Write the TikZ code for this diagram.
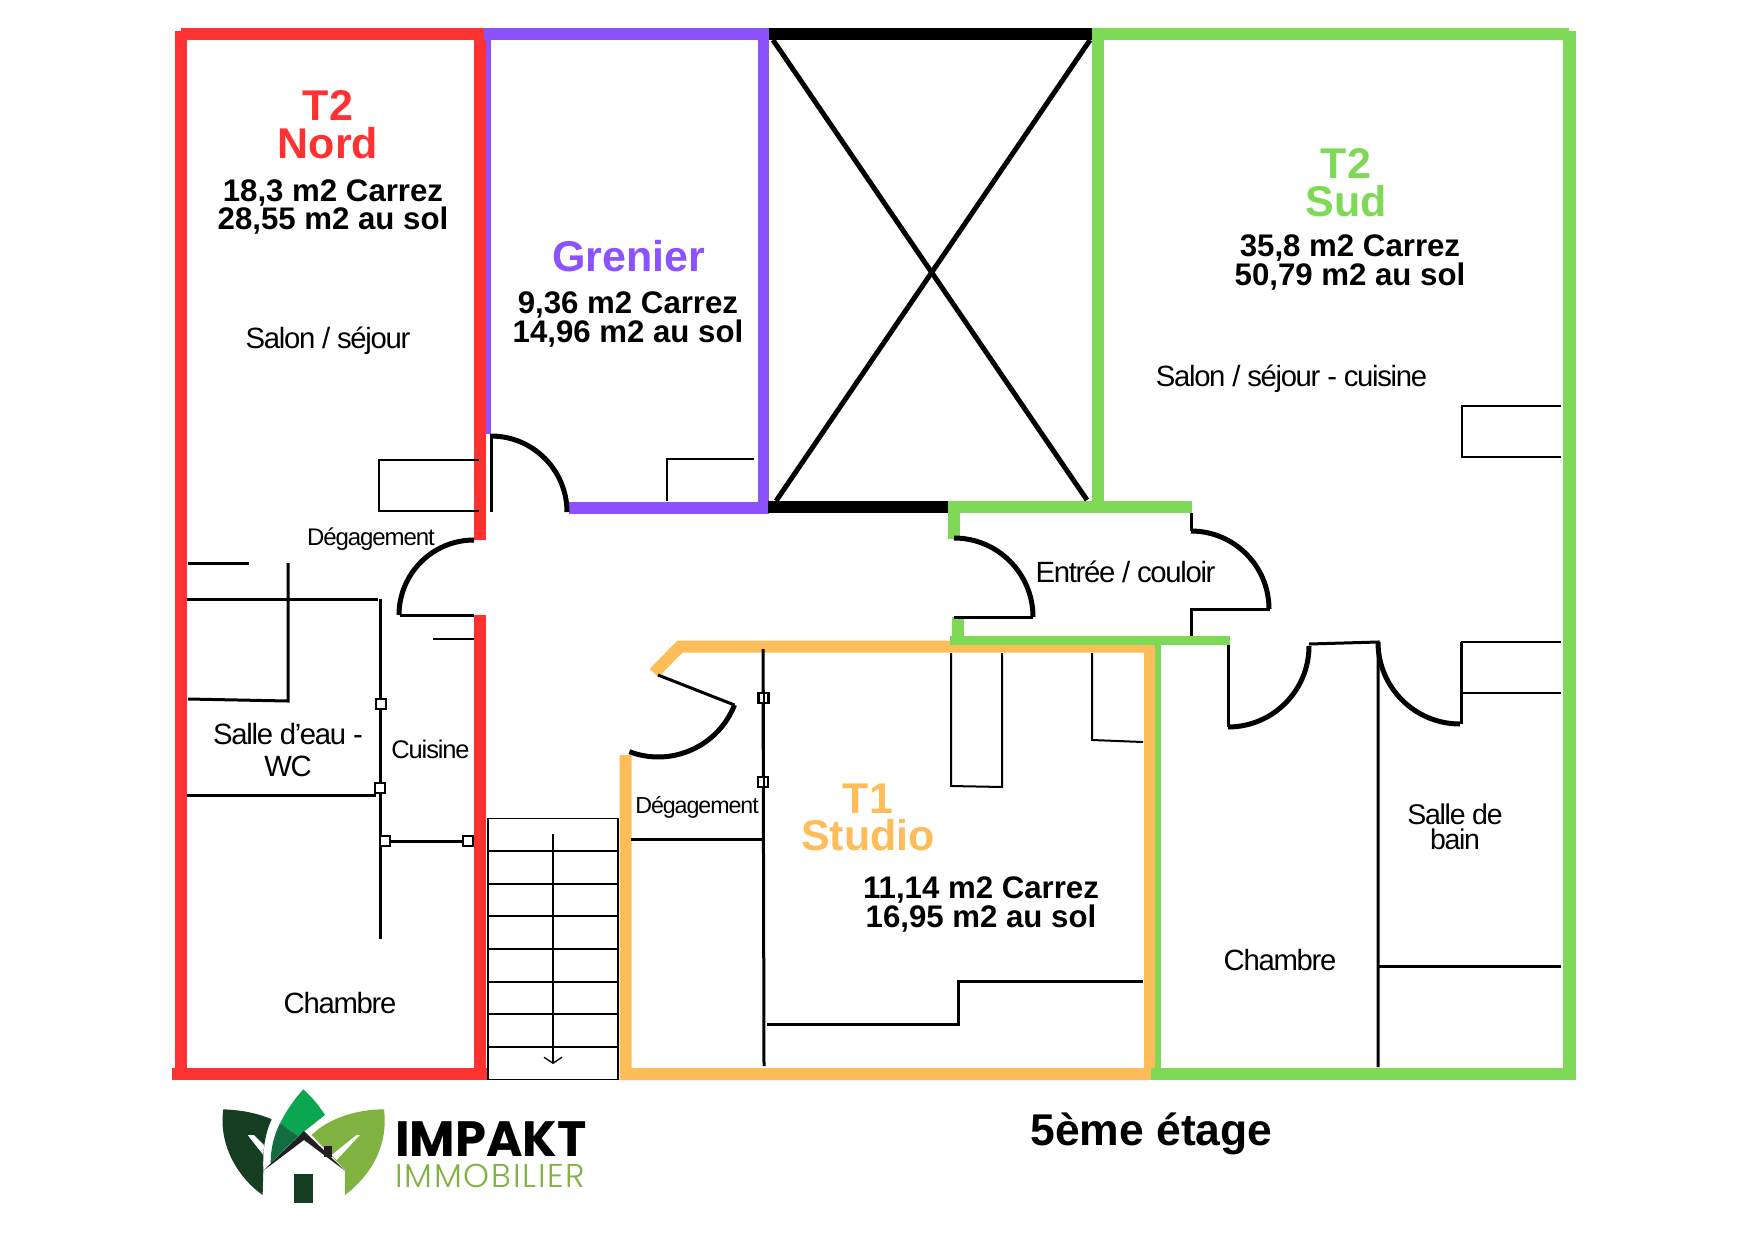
\documentclass[tikz,border=0pt]{standalone}
\usepackage{fontspec}
\setmainfont{Liberation Sans}
\newfontfamily\labelfont[LetterSpace=-4.5]{Liberation Sans}
\newfontfamily\logofont{Poppins}
\newfontfamily\logolight[LetterSpace=5.5]{Poppins Light}
\usetikzlibrary{arrows.meta}
\definecolor{nordred}{HTML}{FF3131}
\definecolor{grenierpurple}{HTML}{8C52FF}
\definecolor{sudgreen}{HTML}{7ED957}
\definecolor{studioorange}{HTML}{FFBD59}
\definecolor{logodark}{HTML}{143D22}
\definecolor{logomid}{HTML}{146C43}
\definecolor{logobright}{HTML}{0BA650}
\definecolor{logoleaf}{HTML}{7FB241}
\definecolor{logoroof}{HTML}{231F20}

\begin{document}
\begin{tikzpicture}[x=1pt,y=-1pt]
\tikzset{wall/.style={line width=12pt,line cap=butt,line join=miter}}
\tikzset{door/.style={line width=5pt}}
\tikzset{frame/.style={line width=3pt}}
\tikzset{fixture/.style={line width=2pt}}
\tikzset{stairline/.style={line width=1.3pt}}
\tikzset{hinge/.style={draw,fill=white,line width=2.5pt,inner sep=0pt,minimum size=10pt}}
\tikzset{title/.style={font=\fontsize{43}{38}\selectfont\bfseries,align=center,anchor=base,inner sep=0pt}}
\tikzset{area/.style={font=\fontsize{31.2}{26.5}\selectfont\bfseries,align=center,anchor=base,inner sep=0pt}}
\tikzset{room/.style={font=\labelfont\fontsize{29.3}{32}\selectfont,align=center,anchor=base,inner sep=0pt}}
\useasboundingbox (0,0) rectangle (1748,1240);
\fill[white] (0,0) rectangle (1748,1240);

% walls
\draw[wall,line width=10pt,grenierpurple] (486,34) -- (486,434);
\draw[wall,nordred] (181,31) -- (181,1074);
\draw[wall,nordred] (181,34) -- (484,34);
\draw[wall,nordred] (480,28) -- (480,540);
\draw[wall,nordred] (480,615) -- (480,1074);
\draw[wall,nordred] (172,1074) -- (488,1074);
\draw[wall,grenierpurple] (484,34) -- (769,34);
\draw[wall,line width=11pt,grenierpurple] (763.5,28) -- (763.5,514);
\draw[wall,grenierpurple] (569,508) -- (769,508);
\draw[wall] (769,34) -- (1092,34);
\draw[wall,line width=12.5pt] (768,507) -- (950,507);
\draw[wall,studioorange] (654,673) -- (680,646.5) -- (1150,646.5) -- (1150,1074) -- (625.5,1074) -- (625.5,755);
\draw[wall,sudgreen] (1097.5,28) -- (1097.5,502);
\draw[wall,sudgreen] (1092,34) -- (1569,34);
\draw[wall,line width=13pt,sudgreen] (1569.5,31) -- (1569.5,1080);
\draw[wall,sudgreen] (1151,1074) -- (1576,1074);
\draw[wall,line width=6pt,sudgreen] (1158,645) -- (1158,1068);
\draw[wall,sudgreen] (950,506.5) -- (1192,506.5);
\draw[wall,sudgreen] (954,501) -- (954,539);
\draw[wall,sudgreen] (958,617) -- (958,645);
\draw[wall,line width=9pt,sudgreen] (950,640.5) -- (1230,640.5);

% crossed out void
\draw[line width=5pt] (773,40) -- (1087,500);
\draw[line width=5pt] (1090,40) -- (776,501);

% doors
\draw[frame] (491,434) -- (491,512);
\draw[door] (491,436) arc[start angle=90,end angle=0,radius=76pt];
\draw[frame] (400,615) -- (474,615);
\draw[door] (474,540) arc[start angle=90,end angle=180,radius=75pt];
\draw[frame] (658,675) -- (734.5,705);
\draw[door] (734.5,705) arc[start angle=-21.5,end angle=-110.6,radius=82pt];
\draw[frame] (954,617) -- (1033,617);
\draw[door] (954,538) arc[start angle=90,end angle=0,radius=79pt];
\draw[frame] (1191,513) -- (1191,531);
\draw[frame] (1191,636) -- (1191,609) -- (1270,609);
\draw[door] (1191,531) arc[start angle=90,end angle=0,radius=78pt];
\draw[frame] (1228,645) -- (1228,727);
\draw[door] (1228,727) arc[start angle=-90,end angle=0,radius=81pt];
\draw[frame] (1309,644) -- (1378,642) -- (1378,1067);
\draw[frame] (1461,642) -- (1461,724);
\draw[door] (1378,642) arc[start angle=180,end angle=270,radius=82pt];

% fixtures and partitions
\draw[fixture] (479,460) -- (379,460) -- (379,511) -- (479,511);
\draw[fixture] (754,458.5) -- (667,458.5) -- (667,501);
\draw[fixture] (433,639) -- (474,639);
\draw[frame] (188,563) -- (249,563);
\draw[frame] (288,563) -- (288,701) -- (188,699);
\draw[frame] (187,599) -- (378,599);
\draw[frame] (380.5,599) -- (380.5,939);
\draw[frame] (187,795) -- (376,795);
\draw[frame] (763,649) -- (764,1066);
\draw[frame] (631,839) -- (763,839);
\draw[fixture] (951,653) -- (951,786) -- (1002,787) -- (1002,653);
\draw[fixture] (1092,653) -- (1092,740) -- (1143,742);
\draw[frame] (767,1024) -- (958,1024) -- (958,981) -- (1143,981);
\draw[fixture] (1561,406) -- (1462,406) -- (1462,457) -- (1561,457);
\draw[fixture] (1461,642) -- (1561,642);
\draw[fixture] (1461,693) -- (1561,693);
\draw[frame] (1378,966) -- (1561,966);

% hinges
\node[hinge] (hingea) at (381,704) {};
\node[hinge] (hingeb) at (380,788) {};
\node[hinge] (hingec) at (385,841) {};
\node[hinge] (hinged) at (468,841) {};
\draw[frame] (hingec) -- (hinged);
\node[hinge] (hingee) at (763.5,698) {};
\node[hinge] (hingef) at (763,782) {};
\draw[fixture] (763.5,690) -- (763.5,790);

% stairs
\draw[stairline] (488,818.5) rectangle (618,1079.5);
\draw[stairline] (488,851) -- (618,851) (488,884) -- (618,884) (488,916) -- (618,916)
(488,949) -- (618,949) (488,982) -- (618,982) (488,1014) -- (618,1014) (488,1047) -- (618,1047);
\coordinate (stairtop) at (553,834);
\coordinate (stairend) at (553,1064);
\draw[stairline,-{Straight Barb[length=6pt,width=18pt]}] (stairtop) -- (stairend);

% labels
\node[title,nordred] (nordtitle) at (328,158) {T2\\Nord};
\node[area] (nordarea) at (333,229.5) {18,3 m2 Carrez\\28,55 m2 au sol};
\node[room] (nordsalon) at (328,348) {Salon / séjour};
\node[room,font=\labelfont\fontsize{24}{24}\selectfont] (nordpass) at (371,545) {Dégagement};
\node[room] (nordwc) at (288,776) {Salle d’eau -\\WC};
\node[room,font=\labelfont\fontsize{25.5}{25}\selectfont] (nordcuisine) at (430.5,758) {Cuisine};
\node[room] (nordchambre) at (340,1013) {Chambre};
\node[title,grenierpurple] (greniertitle) at (629,271) {Grenier};
\node[area] (grenierarea) at (628,342) {9,36 m2 Carrez\\14,96 m2 au sol};
\node[room,font=\labelfont\fontsize{23.2}{24}\selectfont] (studiopass) at (697,813) {Dégagement};
\node[title,studioorange] (studiotitle) at (868,850) {T1\\[-1pt]Studio};
\node[area] (studioarea) at (981,927) {11,14 m2 Carrez\\16,95 m2 au sol};
\node[room] (sudentree) at (1125.5,582) {Entrée / couloir};
\node[title,sudgreen] (sudtitle) at (1346,216.5) {T2\\Sud};
\node[area] (sudarea) at (1350,285) {35,8 m2 Carrez\\50,79 m2 au sol};
\node[room] (sudsalon) at (1291.5,386.5) {Salon / séjour - cuisine};
\node[room] (sudchambre) at (1280,970) {Chambre};
\node[room,font=\labelfont\fontsize{28.5}{25}\selectfont] (sudbain) at (1455,849) {Salle de\\bain};
\node[title,font=\fontsize{44.5}{44}\selectfont\bfseries] (floor) at (1151.5,1145) {5ème étage};

% logo
\begin{scope}[shift={(200,1080)},x=0.3333pt,y=-0.3333pt]
\fill[logodark] (70,88) .. controls (125,90) and (175,100) .. (215,118) .. controls (195,160) and (188,210) .. (190,270) -- (188,345) .. controls (110,290) and (55,190) .. (70,88) -- cycle;
\fill[white] (143,165) -- (162,165) -- (192,195) -- (190,225) -- cycle;
\fill[logobright] (310,28) .. controls (335,50) and (358,78) .. (375,105) -- (295,168) -- (240,130) .. controls (260,90) and (285,55) .. (310,28) -- cycle;
\fill[logomid] (240,130) -- (295,168) -- (212,250) .. controls (212,205) and (222,165) .. (240,130) -- cycle;
\fill[logoleaf] (552,88) .. controls (470,88) and (385,115) .. (335,165) -- (435,270) -- (435,345) .. controls (520,280) and (565,190) .. (552,88) -- cycle;
\fill[white] (480,165) -- (470,165) -- (395,225) -- (410,240) -- cycle;
\fill[logoroof] (190,272) -- (312,153) -- (435,272) -- (312,180) -- cycle;
\fill[logoroof] (372,197) rectangle (395,232);
\fill[logodark] (283,282) rectangle (339,368);
\end{scope}
\node[anchor=base west,inner sep=0pt,font=\logofont\fontsize{49.6}{49}\selectfont\bfseries] (logoname) at (395,1156) {IMPAKT};
\node[anchor=base west,inner sep=0pt,font=\logolight\fontsize{33}{33}\selectfont,logoleaf] (logosub) at (395,1187) {IMMOBILIER};
\end{tikzpicture}
\end{document}
